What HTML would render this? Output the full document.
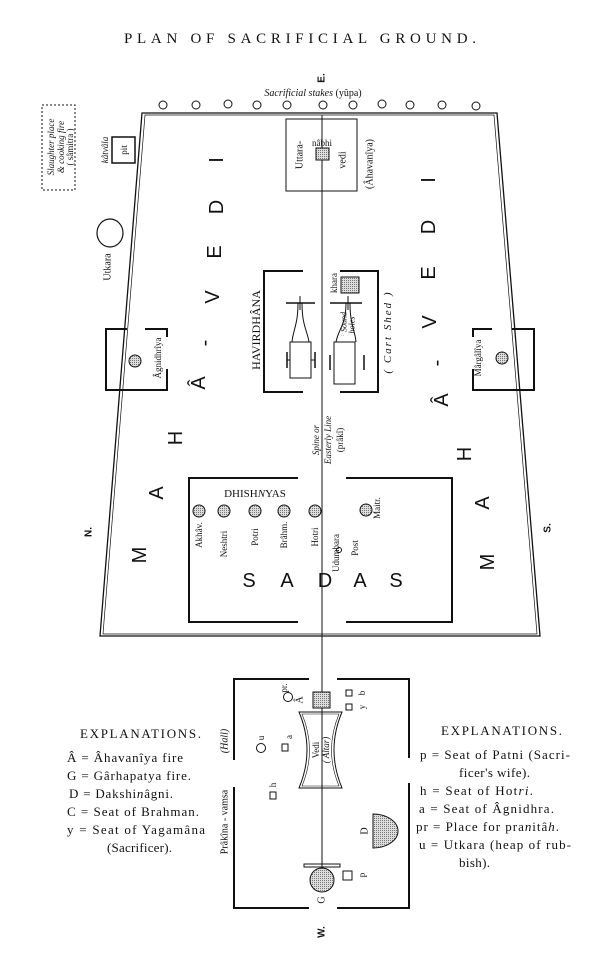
<!DOCTYPE html>
<html><head><meta charset="utf-8"><style>
html,body{margin:0;padding:0;background:#fff}
svg{display:block}
text{font-family:"Liberation Serif",serif;fill:#111}
.s{font-family:"Liberation Sans",sans-serif}
</style></head><body>
<svg width="600" height="959" viewBox="0 0 600 959" xmlns="http://www.w3.org/2000/svg">
<defs>
<pattern id="h" width="2" height="2" patternUnits="userSpaceOnUse"><rect width="2" height="2" fill="#ddd"/><rect width="1" height="1" fill="#777"/></pattern>
</defs>
<g stroke="#111" fill="none">
<text x="300" y="43" font-size="15" text-anchor="middle" textLength="352" stroke="none">PLAN OF SACRIFICIAL GROUND.</text>

<g stroke-width="1">
<circle cx="163" cy="105" r="4"/><circle cx="196" cy="105" r="4"/><circle cx="228" cy="104" r="4"/><circle cx="257" cy="105" r="4"/><circle cx="287" cy="105" r="4"/><circle cx="323" cy="105" r="4"/><circle cx="353" cy="105" r="4"/><circle cx="382" cy="104" r="4"/><circle cx="410" cy="105" r="4"/><circle cx="442" cy="105" r="4"/><circle cx="476" cy="106" r="4"/>
</g>

<polygon points="142,113 497,113 540,636 100,636" stroke-width="1.3"/>
<polygon points="145,115 494,115 537,634 103,634" stroke-width="0.7"/>

<line x1="322" y1="115" x2="322" y2="878" stroke-width="1"/>

<rect x="286" y="119" width="71" height="72" stroke-width="1"/>
<rect x="316" y="148" width="13" height="12" fill="url(#h)" stroke-width="1"/>

<rect x="42" y="105" width="33" height="85" stroke-dasharray="2,2" stroke-width="1"/>
<rect x="112" y="137" width="23" height="26" stroke-width="1.5"/>
<ellipse cx="110" cy="233" rx="13" ry="14" stroke-width="1.2"/>

<g stroke-width="2">
<polyline points="303,271 264,271 264,392 303,392"/>
<polyline points="340,271 378,271 378,392 340,392"/>
</g>
<g stroke-width="1">
<rect x="290" y="342" width="21" height="36"/>
<line x1="286" y1="303" x2="315" y2="303" stroke-width="1.5"/>
<line x1="300" y1="296" x2="300" y2="310"/>
<path d="M298,303 C298,325 293,330 292,342 M302,303 C302,325 307,330 309,342"/>
<line x1="287" y1="352" x2="287" y2="368" stroke-width="1.5"/><line x1="315" y1="352" x2="315" y2="368" stroke-width="1.5"/>
<line x1="287" y1="360" x2="290" y2="360"/><line x1="311" y1="360" x2="315" y2="360"/>
<rect x="334" y="342" width="21" height="42"/>
<line x1="330" y1="303" x2="362" y2="303" stroke-width="1.5"/>
<line x1="348" y1="296" x2="348" y2="310"/>
<path d="M346,303 C346,325 338,330 336,342 M350,303 C350,325 355,330 356,342"/>
<line x1="330" y1="355" x2="330" y2="370" stroke-width="1.5"/><line x1="364" y1="355" x2="364" y2="370" stroke-width="1.5"/>
<rect x="341" y="277" width="18" height="16" fill="url(#h)"/>
</g>
<text x="341" y="336" font-size="5" stroke="none">∴</text>

<g stroke-width="2">
<polyline points="127,329 106,329 106,390 167,390 167,369"/>
<polyline points="145,329 167,329 167,337"/>
<polyline points="512,329 534,329 534,390 473,390 473,369"/>
<polyline points="492,329 473,329 473,337"/>
</g>
<circle cx="135" cy="361" r="6" fill="url(#h)" stroke-width="1"/>
<circle cx="502" cy="358" r="6" fill="url(#h)" stroke-width="1"/>

<g stroke-width="2">
<polyline points="298,478 189,478 189,622 298,622"/>
<polyline points="346,478 452,478 452,622 346,622"/>
</g>
<g fill="url(#h)" stroke-width="1">
<circle cx="199" cy="511" r="6"/><circle cx="224" cy="511" r="6"/><circle cx="255" cy="511" r="6"/><circle cx="284" cy="511" r="6"/><circle cx="315" cy="511" r="6"/><circle cx="366" cy="510" r="6"/>
</g>
<circle cx="339" cy="550" r="2.5" stroke-width="1"/>

<g stroke-width="2">
<polyline points="309,679 234,679 234,760"/>
<polyline points="234,787 234,908 309,908"/>
<polyline points="337,679 409,679 409,758"/>
<polyline points="409,783 409,908 337,908"/>
</g>
<rect x="313" y="692" width="17" height="16" fill="url(#h)" stroke-width="1"/>
<path d="M299,712 L342,712 Q326,750 342,788 L299,788 Q315,750 299,712 Z" stroke-width="1"/>
<path d="M302,714 L339,714 Q324,750 339,786 L302,786 Q317,750 302,714 Z" stroke-width="0.6"/>
<circle cx="288" cy="697" r="4.5" stroke-width="1"/>
<rect x="346" y="690" width="6" height="6" stroke-width="1"/>
<rect x="346" y="704" width="6" height="6" stroke-width="1"/>
<circle cx="261" cy="748" r="4.5" stroke-width="1"/>
<rect x="282" y="744" width="6" height="7" stroke-width="1"/>
<rect x="270" y="792" width="6" height="7" stroke-width="1"/>
<path d="M373,814 L373,848 A25,17 0 0 0 373,814 Z" fill="url(#h)" stroke-width="1"/>
<rect x="304" y="864" width="36" height="3" stroke-width="1"/>
<circle cx="322" cy="880" r="12" fill="url(#h)" stroke-width="1"/>
<rect x="343" y="871" width="9" height="9" stroke-width="1"/>
</g>

<g stroke="none">
<text x="313" y="96" font-size="10" font-style="italic" text-anchor="middle">Sacrificial stakes <tspan font-style="normal">(yûpa)</tspan></text>

<g font-size="10" text-anchor="middle" dominant-baseline="central">
<text transform="translate(322,78) rotate(-90)" class="s" font-weight="bold" font-size="10">E.</text>
<text transform="translate(51,147) rotate(-90)" font-style="italic" font-size="9">Slaughter place</text>
<text transform="translate(61,147) rotate(-90)" font-style="italic" font-size="9">&amp; cooking fire</text>
<text transform="translate(70,147) rotate(-90)" font-size="9">( sâmitra )</text>
<text transform="translate(105,150) rotate(-90)" font-style="italic" font-size="9">kâtvâla</text>
<text transform="translate(124,150) rotate(-90)" font-size="9">pit</text>
<text transform="translate(108,267) rotate(-90)">Utkara</text>
<text transform="translate(300,155) rotate(-90)">Uttara-</text>
<text x="322" y="143" font-size="9">nâbhi</text>
<text transform="translate(343,160) rotate(-90)">vedi</text>
<text transform="translate(370,164) rotate(-90)">(Âhavanîya)</text>
<text transform="translate(256,330) rotate(-90)" font-size="12">HAVIRDHÂNA</text>
<text transform="translate(388,332) rotate(-90)" font-style="italic" font-size="11" letter-spacing="2">( Cart Shed )</text>
<text transform="translate(334,283) rotate(-90)" font-size="9">khara</text>
<text transform="translate(344,322) rotate(-90)" font-style="italic" font-size="8">Sound</text>
<text transform="translate(352,325) rotate(-90)" font-style="italic" font-size="8">holes</text>
<text transform="translate(158,358) rotate(-90)" font-size="9">Âgnidhrîya</text>
<text transform="translate(478,358) rotate(-90)" font-size="9">Mârgâlîya</text>
<text transform="translate(316,440) rotate(-90)" font-style="italic" font-size="9">Spine or</text>
<text transform="translate(328,440) rotate(-90)" font-style="italic" font-size="9">Easterly Line</text>
<text transform="translate(340,440) rotate(-90)" font-size="9">(prâkî)</text>
<text transform="translate(89,532) rotate(-90)" class="s" font-weight="bold">N.</text>
<text transform="translate(548,528) rotate(-90)" class="s" font-weight="bold">S.</text>
<text transform="translate(199,535) rotate(-90)" font-size="9">Akhâv.</text>
<text transform="translate(224,544) rotate(-90)" font-size="9">Neshtri</text>
<text transform="translate(255,537) rotate(-90)" font-size="9">Potri</text>
<text transform="translate(284,535) rotate(-90)" font-size="9">Brâhm.</text>
<text transform="translate(315,537) rotate(-90)" font-size="9">Hotri</text>
<text transform="translate(377,508) rotate(-90)" font-size="9">Maitr.</text>
<text transform="translate(336,553) rotate(-90)" font-size="9">Udumbara</text>
<text transform="translate(355,548) rotate(-90)" font-size="9">Post</text>
<text transform="translate(284,688) rotate(-90)" font-size="9">pr.</text>
<text transform="translate(300,700) rotate(-90)" font-size="10">Â</text>
<text transform="translate(362,693) rotate(-90)" font-size="9">b</text>
<text transform="translate(362,707) rotate(-90)" font-size="9">y</text>
<text transform="translate(261,738) rotate(-90)" font-size="9">u</text>
<text transform="translate(289,737) rotate(-90)" font-size="9">a</text>
<text transform="translate(273,785) rotate(-90)" font-size="9">h</text>
<text transform="translate(365,831) rotate(-90)" font-size="10">D</text>
<text transform="translate(322,900) rotate(-90)" font-size="10">G</text>
<text transform="translate(362,875) rotate(-90)" font-size="9">p</text>
<text transform="translate(316,750) rotate(-90)" font-size="9">Vedi</text>
<text transform="translate(326,750) rotate(-90)" font-style="italic" font-size="9">( Altar)</text>
<text transform="translate(225,741) rotate(-90)" font-style="italic" font-size="10">(Hall)</text>
<text transform="translate(225,822) rotate(-90)" font-size="10">Prâkîna - vamsa</text>
<text transform="translate(322,932) rotate(-90)" class="s" font-weight="bold">W.</text>
</g>

<g class="s" font-size="20" text-anchor="middle" dominant-baseline="central">
<text transform="translate(217,160) rotate(-90)" class="s">I</text>
<text transform="translate(217,207) rotate(-90)" class="s">D</text>
<text transform="translate(215,252) rotate(-90)" class="s">E</text>
<text transform="translate(213,297) rotate(-90)" class="s">V</text>
<text transform="translate(205,343) rotate(-90)" class="s">-</text>
<text transform="translate(199,383) rotate(-90)" class="s">Â</text>
<text transform="translate(176,438) rotate(-90)" class="s">H</text>
<text transform="translate(157,493) rotate(-90)" class="s">A</text>
<text transform="translate(140,555) rotate(-90)" class="s">M</text>
<text transform="translate(429,180) rotate(-90)" class="s">I</text>
<text transform="translate(429,227) rotate(-90)" class="s">D</text>
<text transform="translate(429,273) rotate(-90)" class="s">E</text>
<text transform="translate(430,322) rotate(-90)" class="s">V</text>
<text transform="translate(437,363) rotate(-90)" class="s">-</text>
<text transform="translate(442,400) rotate(-90)" class="s">Â</text>
<text transform="translate(465,454) rotate(-90)" class="s">H</text>
<text transform="translate(483,503) rotate(-90)" class="s">A</text>
<text transform="translate(488,562) rotate(-90)" class="s">M</text>
</g>
<g class="s" font-size="20" text-anchor="middle" dominant-baseline="central">
<text x="249" y="581" class="s">S</text><text x="287" y="581" class="s">A</text><text x="325" y="581" class="s">D</text><text x="360" y="581" class="s">A</text><text x="396" y="581" class="s">S</text>
</g>
<text x="255" y="497" font-size="11" text-anchor="middle">DHISH<tspan font-style="italic">N</tspan>YAS</text>

<text x="80" y="738" font-size="13" textLength="121">EXPLANATIONS.</text>
<g font-size="13">
<text x="67" y="762" textLength="116">Â = Âhavanîya fire</text>
<text x="67" y="780" textLength="124">G = Gârhapatya fire.</text>
<text x="69" y="798" textLength="104">D = Dakshi<tspan font-style="italic">n</tspan>âgni.</text>
<text x="67" y="816" textLength="132">C = Seat of Brahman.</text>
<text x="67" y="834" textLength="138">y = Seat of Yagamâna</text>
<text x="107" y="852" textLength="65">(Sacrificer).</text>
</g>
<text x="441" y="735" font-size="13" textLength="121">EXPLANATIONS.</text>
<g font-size="13">
<text x="420" y="759" textLength="150">p = Seat of Patni (Sacri-</text>
<text x="459" y="777" textLength="71">ficer's wife).</text>
<text x="420" y="795" textLength="113">h = Seat of Hot<tspan font-style="italic">ri</tspan>.</text>
<text x="419" y="813" textLength="135">a = Seat of Âgnidhra.</text>
<text x="416" y="831" textLength="143">pr = Place for pra<tspan font-style="italic">n</tspan>itâ<tspan font-style="italic">h</tspan>.</text>
<text x="419" y="849" textLength="152">u = Utkara (heap of rub-</text>
<text x="459" y="867" textLength="31">bish).</text>
</g>
</g>
</svg>
</body></html>
